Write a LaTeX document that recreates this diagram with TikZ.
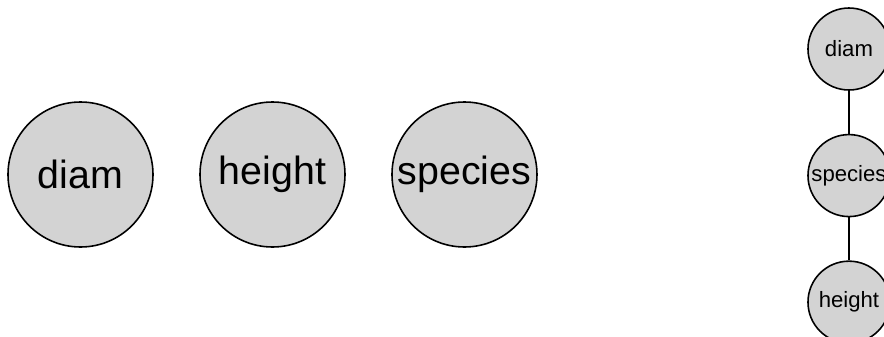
\documentclass[tikz,border=0pt]{standalone}
\usepackage{fontspec}
\setmainfont{Liberation Sans}
\usepackage{tikz}
\usetikzlibrary{positioning}

\definecolor{nodegray}{RGB}{211,211,211}

\begin{document}
\begin{tikzpicture}[
  x=0.1mm, y=-0.1mm,
  var/.style={circle, draw=black, line width=0.45pt, fill=nodegray, minimum size=14.5mm, inner sep=0pt, font=\fontsize{11.2}{13}\selectfont},
  smallvar/.style={circle, draw=black, line width=0.45pt, fill=nodegray, minimum size=8.2mm, inner sep=0pt, font=\fontsize{6.3}{7.5}\selectfont},
  edge/.style={draw=black, line width=0.45pt},
]

% page frame
\useasboundingbox (0,0) rectangle (884,337);
\clip (0,0) rectangle (884,337);

% unconnected variables
\node[var] (diam) at (80.5,174.5) {diam};
\node[var] (height) at (272.5,174.5) {height};
\node[var] (species) at (464.5,174.5) {species};

% chain on the right
\node[smallvar] (sdiam) at (849,49) {diam};
\node[smallvar, below=4.3mm of sdiam] (sspecies) {species};
\node[smallvar, below=4.3mm of sspecies] (sheight) {height};

\draw[edge] (sdiam) -- (sspecies);
\draw[edge] (sspecies) -- (sheight);

\end{tikzpicture}
\end{document}
